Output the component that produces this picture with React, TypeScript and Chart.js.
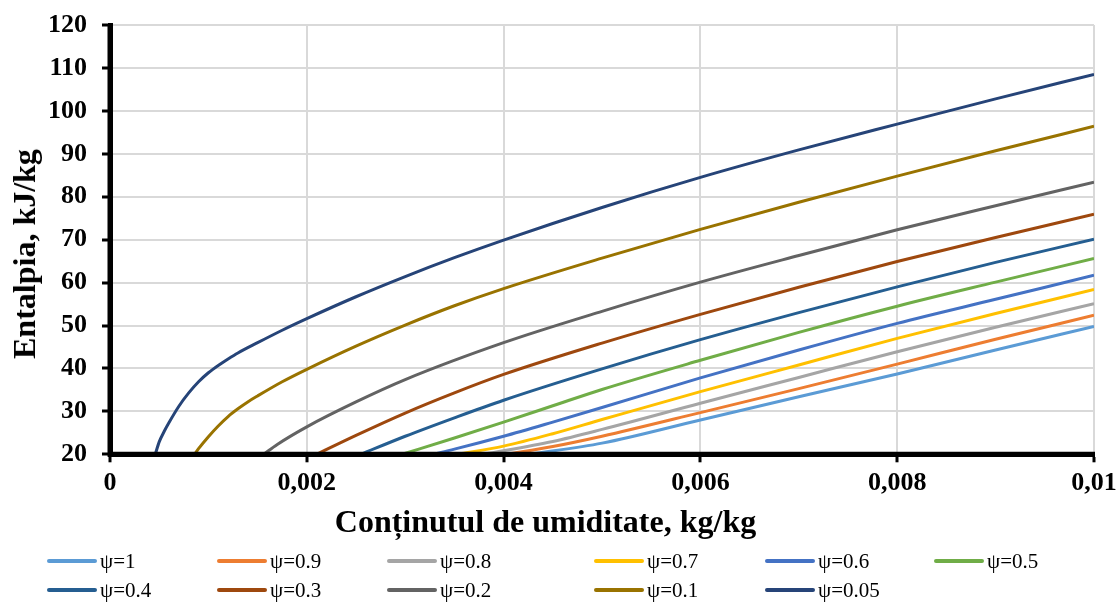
import { useEffect, useRef } from "react";
import { Chart, registerables } from "chart.js";

Chart.register(...registerables);

const W = 1118;
const H = 603;
const SERIF = "'Liberation Serif', 'Times New Roman', serif";

// Moisture content (kg/kg) and enthalpy (kJ/kg) along each relative-humidity curve
const psi1X = [0.00427, 0.005, 0.006, 0.007, 0.008, 0.009, 0.01];
const psi1Y = [20, 22.6, 28.0, 33.4, 38.7, 44.3, 49.8];

const psi09X = [0.00403, 0.0045, 0.005, 0.006, 0.007, 0.008, 0.009, 0.01];
const psi09Y = [20, 21.8, 24.2, 29.7, 35.3, 41.0, 46.8, 52.4];

const psi08X = [0.00379, 0.0045, 0.005, 0.006, 0.007, 0.008, 0.009, 0.01];
const psi08Y = [20, 23.0, 25.8, 31.9, 37.9, 43.9, 49.6, 55.1];

const psi07X = [0.00353, 0.004, 0.0045, 0.005, 0.006, 0.007, 0.008, 0.009, 0.01];
const psi07Y = [20, 21.9, 24.8, 28.1, 34.6, 40.8, 47.0, 52.8, 58.4];

const psi06X = [0.00328, 0.0035, 0.004, 0.0045, 0.005, 0.006, 0.007, 0.008, 0.009, 0.01];
const psi06Y = [20, 21.2, 24.2, 27.5, 30.9, 37.8, 44.3, 50.5, 56.1, 61.7];

const psi05X = [0.00297, 0.0035, 0.004, 0.0045, 0.005, 0.006, 0.007, 0.008, 0.009, 0.01];
const psi05Y = [20, 23.8, 27.5, 31.3, 35.1, 41.9, 48.4, 54.5, 60.1, 65.6];

const psi04X = [0.00255, 0.003, 0.0035, 0.004, 0.005, 0.006, 0.007, 0.008, 0.009, 0.01];
const psi04Y = [20, 24.2, 28.5, 32.6, 39.9, 46.7, 53.0, 59.0, 64.7, 70.1];

const psi03X = [0.0021, 0.0025, 0.003, 0.0035, 0.004, 0.005, 0.006, 0.007, 0.008, 0.009, 0.01];
const psi03Y = [20, 24.4, 29.6, 34.3, 38.6, 45.9, 52.6, 58.9, 64.9, 70.5, 75.9];

const psi02X = [0.00156, 0.0017, 0.002, 0.0025, 0.003, 0.004, 0.005, 0.006, 0.007, 0.008, 0.009, 0.01];
const psi02Y = [20, 22.3, 26.4, 32.2, 37.4, 46.0, 53.3, 60.1, 66.3, 72.3, 77.9, 83.4];

const psi01X = [0.00086, 0.0009, 0.001, 0.0011, 0.0012, 0.0013, 0.0014, 0.0015, 0.00175, 0.002, 0.0025, 0.003, 0.0035, 0.004, 0.005, 0.006, 0.007, 0.008, 0.009, 0.01];
const psi01Y = [20, 21.3, 24.1, 26.6, 28.8, 30.6, 32.2, 33.6, 36.9, 39.8, 45.2, 50.1, 54.6, 58.6, 65.7, 72.4, 78.7, 84.8, 90.7, 96.4];

const psi005X = [0.00046, 0.0005, 0.00055, 0.0006, 0.0007, 0.0008, 0.0009, 0.001, 0.0011, 0.0012, 0.0013, 0.0015, 0.00175, 0.002, 0.0025, 0.003, 0.0035, 0.004, 0.005, 0.006, 0.007, 0.008, 0.009, 0.01];
const psi005Y = [20, 22.9, 25.3, 27.4, 31.2, 34.3, 36.9, 39.0, 40.7, 42.2, 43.6, 46.0, 48.9, 51.6, 56.7, 61.4, 65.8, 69.9, 77.5, 84.5, 90.9, 96.9, 102.8, 108.5];

const seriesLabels = ["ψ=1", "ψ=0.9", "ψ=0.8", "ψ=0.7", "ψ=0.6", "ψ=0.5", "ψ=0.4", "ψ=0.3", "ψ=0.2", "ψ=0.1", "ψ=0.05"];
const seriesColors = ["#5B9BD5", "#ED7D31", "#A5A5A5", "#FFC000", "#4472C4", "#70AD47", "#255E91", "#9E480E", "#636363", "#997300", "#264478"];
const seriesX = [psi1X, psi09X, psi08X, psi07X, psi06X, psi05X, psi04X, psi03X, psi02X, psi01X, psi005X];
const seriesY = [psi1Y, psi09Y, psi08Y, psi07Y, psi06Y, psi05Y, psi04Y, psi03Y, psi02Y, psi01Y, psi005Y];

// Axis ticks
const xTickValues = [0, 0.002, 0.004, 0.006, 0.008, 0.01];
const xTickLabels = ["0", "0,002", "0,004", "0,006", "0,008", "0,01"];
const yTickValues = [20, 30, 40, 50, 60, 70, 80, 90, 100, 110, 120];
const yTickLabels = ["20", "30", "40", "50", "60", "70", "80", "90", "100", "110", "120"];

const xTitle = "Conținutul de umiditate, kg/kg";
const yTitle = "Entalpia, kJ/kg";

// Legend grid: two rows, items indexed into the series arrays
const legendRows = [
  [0, 1, 2, 3, 4, 5],
  [6, 7, 8, 9, 10],
];
const legendColLeft = [47, 217, 387, 594, 765, 934];
const legendRowCenter = [561, 590];

// Thick black axis lines painted over the curves
const axesOnTop = {
  id: "axesOnTop",
  afterDatasetsDraw(chart: Chart) {
    const { ctx, chartArea } = chart;
    const { left, right, top, bottom } = chartArea;
    ctx.save();
    ctx.strokeStyle = "#000";
    ctx.lineWidth = 5;
    ctx.beginPath();
    ctx.moveTo(left - 2.5, bottom);
    ctx.lineTo(right + 1, bottom);
    ctx.moveTo(left, top - 1);
    ctx.lineTo(left, bottom);
    ctx.stroke();
    ctx.restore();
  },
};

export default function App() {
  const canvasRef = useRef<HTMLCanvasElement>(null);

  useEffect(() => {
    const canvas = canvasRef.current;
    if (!canvas) return;

    const datasets = seriesLabels.map((label, i) => ({
      label,
      data: seriesX[i].map((x, j) => ({ x, y: seriesY[i][j] })),
      borderColor: seriesColors[i],
      backgroundColor: seriesColors[i],
      borderWidth: 3,
      pointRadius: 0,
      pointHoverRadius: 0,
      cubicInterpolationMode: "monotone" as const,
      fill: false,
    }));

    const tickFont = { family: SERIF, size: 26, weight: "bold" as const, lineHeight: 1.2 };

    const chart = new Chart(canvas, {
      type: "line",
      data: { datasets },
      plugins: [axesOnTop],
      options: {
        animation: false,
        responsive: false,
        devicePixelRatio: 1,
        layout: { padding: { left: 0, top: 25, right: 24, bottom: 0 } },
        plugins: {
          legend: { display: false },
          tooltip: { enabled: false },
          title: { display: false },
        },
        scales: {
          x: {
            type: "linear",
            min: 0,
            max: 0.01,
            afterFit: (s: any) => {
              s.height = H - 454.3;
              s.paddingLeft = 0;
              s.paddingRight = 0;
            },
            afterBuildTicks: (s: any) => {
              s.ticks = xTickValues.map((value) => ({ value }));
            },
            ticks: {
              color: "#000",
              font: tickFont,
              padding: 5,
              maxRotation: 0,
              autoSkip: false,
              callback: (_v: any, index: number) => xTickLabels[index],
            },
            grid: {
              color: "#d9d9d9",
              lineWidth: 2,
              tickColor: "#000",
              tickWidth: 3,
              tickLength: 8,
            },
            border: { display: true, color: "#000", width: 5 },
          },
          y: {
            type: "linear",
            min: 20,
            max: 120,
            afterFit: (s: any) => {
              s.width = 110;
              s.paddingTop = 0;
              s.paddingBottom = 0;
            },
            afterBuildTicks: (s: any) => {
              s.ticks = yTickValues.map((value) => ({ value }));
            },
            ticks: {
              color: "#000",
              font: tickFont,
              padding: 15,
              autoSkip: false,
              callback: (_v: any, index: number) => yTickLabels[index],
            },
            grid: {
              color: "#d9d9d9",
              lineWidth: 2,
              tickColor: "#000",
              tickWidth: 3,
              tickLength: 8,
            },
            border: { display: true, color: "#000", width: 5 },
          },
        },
      },
    });

    return () => chart.destroy();
  }, []);

  return (
    <div
      style={{
        position: "absolute",
        left: 0,
        top: 0,
        width: W,
        height: H,
        background: "#fff",
        fontFamily: SERIF,
        color: "#000",
        overflow: "hidden",
      }}
    >
      <canvas ref={canvasRef} width={W} height={H} style={{ position: "absolute", left: 0, top: 0 }} />

      <div
        style={{
          position: "absolute",
          left: 23.5,
          top: 254,
          transform: "translate(-50%, -50%) rotate(-90deg)",
          whiteSpace: "nowrap",
          fontSize: 32,
          fontWeight: "bold",
          lineHeight: 1,
        }}
      >
        {yTitle}
      </div>

      <div
        style={{
          position: "absolute",
          left: 545.5,
          top: 521,
          transform: "translate(-50%, -50%)",
          whiteSpace: "nowrap",
          fontSize: 32,
          fontWeight: "bold",
          lineHeight: 1,
        }}
      >
        {xTitle}
      </div>

      {legendRows.map((row, r) =>
        row.map((idx, c) => (
          <div
            key={`${r}-${c}`}
            style={{
              position: "absolute",
              left: legendColLeft[c],
              top: legendRowCenter[r] - 12,
              height: 24,
              display: "flex",
              alignItems: "center",
              whiteSpace: "nowrap",
            }}
          >
            <span
              style={{
                display: "inline-block",
                width: 50,
                height: 4,
                borderRadius: 2,
                background: seriesColors[idx],
              }}
            />
            <span style={{ marginLeft: 3, fontSize: 21, lineHeight: "24px" }}>{seriesLabels[idx]}</span>
          </div>
        ))
      )}
    </div>
  );
}
